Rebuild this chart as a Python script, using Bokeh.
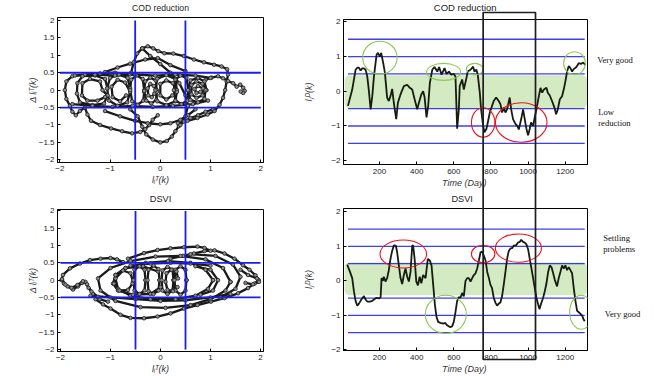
from bokeh.plotting import figure
from bokeh.models import Range1d, FixedTicker, GridBox, BoxAnnotation
from bokeh.core.properties import value
from bokeh.embed import file_html
from bokeh.resources import INLINE

# ---------------- data ----------------
PHASE_XTICKS = [-2, -1, 0, 1, 2]
PHASE_YTICKS = [-2, -1.5, -1, -0.5, 0, 0.5, 1, 1.5, 2]
DAY_TICKS = [0, 200, 400, 600, 800, 1000, 1200]
ID_TICKS = [-2, -1, 0, 1, 2]
PHASE_LIMITS = [-0.5, 0.5]
PHASE_LIMIT_SPAN = [-2, 2]
LEVELS = [-1.5, -1, -0.5, 0.5, 1, 1.5]
LEVEL_SPAN_DAYS = [30, 1305]
BAND_DAYS = [12, 1317]
BAND_COD = [-0.49, 0.46]
BAND_DSVI = [-0.42, 0.53]
WINDOW_DAYS = [758, 1040]

COD_DAY = [30, 53, 71, 80, 89, 98, 107, 116, 125, 134, 143, 152, 161, 170, 184, 191, 202, 209, 220, 229,
           241, 250, 259, 268, 277, 290, 299, 313, 331, 349, 363, 376, 389, 403, 412, 425, 435, 443, 453, 462,
           471, 484, 496, 511, 521, 534, 550, 561, 574, 586, 600, 609, 618, 627, 632, 645, 654, 668, 675, 690,
           704, 711, 722, 729, 740, 747, 758, 765, 776, 783, 794, 806, 815, 828, 842, 851, 860, 869, 878, 887,
           901, 909, 919, 932, 941, 950, 963, 973, 982, 991, 1000, 1009, 1016, 1027, 1034, 1045, 1058, 1067,
           1076, 1085, 1099, 1106, 1117, 1129, 1142, 1151, 1160, 1171, 1183, 1192, 1201, 1210, 1219, 1228,
           1237, 1246, 1260, 1273, 1285, 1296, 1309]
COD_ID = [-0.42, 0.05, 0.62, 0.68, 0.68, 0.6, 0.66, 0.66, 0.62, 0.43, 0.0, -0.52, -0.14, 0.43, 1.05, 1.11, 1.0, 1.11, 0.81, 0.53,
          -0.18, -0.28, -0.14, 0.07, -0.33, -0.8, -0.33, -0.09, 0.15, 0.19, 0.1, 0.05, -0.23, -0.52, -0.33, -0.09, 0.0, -0.18, -0.75, -0.42,
          0.24, 0.62, 0.7, 0.57, 0.7, 0.48, 0.67, 0.5, 0.57, 0.48, 0.5, 0.43, -1.08, -0.52, 0.15, 0.34, 0.05, 0.38, 0.57, 0.62,
          0.71, 0.57, 0.62, 0.48, -0.04, -0.52, -0.99, -1.18, -1.08, -0.9, -0.61, -0.42, -0.28, -0.18, -0.28, -0.37, -0.61, -0.47, -0.61, -0.52,
          -0.18, -0.52, -0.8, -0.94, -0.99, -1.1, -0.8, -0.52, -0.8, -1.08, -1.27, -1.08, -0.9, -1.0, -0.8, -0.52, -0.14, 0.1,
          -0.04, 0.05, 0.1, -0.04, -0.12, -0.28, -0.47, -0.66, -0.52, -0.23, -0.14, 0.05, 0.29, 0.57, 0.73, 0.67,
          0.57, 0.64, 0.7, 0.81, 0.79, 0.83, 0.76]

DSVI_DAY = [26, 41, 53, 62, 71, 80, 89, 98, 109, 116, 125, 134, 148, 161, 170, 184, 197, 206, 211, 218,
            223, 232, 241, 250, 259, 268, 277, 288, 295, 304, 313, 322, 331, 340, 349, 358, 367, 376, 381, 389,
            398, 407, 416, 425, 435, 448, 460, 471, 480, 489, 498, 507, 516, 528, 543, 554, 564, 579, 591, 600,
            609, 618, 627, 636, 645, 654, 663, 672, 681, 690, 699, 708, 717, 726, 735, 744, 753, 762, 771, 780,
            789, 797, 806, 815, 824, 833, 842, 851, 860, 869, 878, 887, 896, 905, 914, 923, 937, 945, 955, 963,
            973, 982, 991, 1000, 1009, 1018, 1027, 1036, 1045, 1054, 1061, 1070, 1081, 1090, 1099, 1108, 1117,
            1126, 1135, 1144, 1156, 1165, 1174, 1183, 1192, 1201, 1210, 1219, 1228, 1237, 1246, 1255, 1264,
            1273, 1282, 1291, 1300, 1305]
DSVI_ID = [0.47, 0.26, 0.08, -0.3, -0.58, -0.72, -0.66, -0.58, -0.49, -0.44, -0.54, -0.6, -0.6, -0.58, -0.54, -0.49, -0.51, -0.47, 0.08, 0.0,
           0.12, -0.02, 0.08, 0.31, 0.64, 0.87, 1.03, 1.02, 0.83, 0.45, 0.08, -0.09, 0.17, 0.36, 0.12, -0.02, 0.26, 1.02, 1.03, 0.64,
           -0.02, -0.13, 0.12, -0.07, 0.17, 0.08, 0.64, 0.59, 0.45, -0.11, -0.68, -1.05, -1.19, -1.22, -1.24, -1.22, -1.29, -1.34, -1.32, -1.19,
           -0.91, -0.58, -0.47, -0.49, -0.35, -0.45, 0.0, 0.08, 0.08, -0.02, 0.08, 0.17, 0.22, 0.36, 0.59, 0.83, 0.85, 0.73, 0.59, 0.26,
           0.08, -0.11, -0.21, -0.49, -0.63, -0.72, -0.66, -0.63, -0.44, -0.11, 0.26, 0.64, 0.87, 0.94, 0.95, 1.02, 1.04, 1.11, 1.13, 1.19,
           1.13, 1.11, 1.06, 0.92, 0.64, 0.36, 0.08, -0.21, -0.49, -0.68, -0.82, -0.66, -0.49, -0.3, -0.07, 0.26, 0.45,
           0.4, 0.22, 0.03, -0.16, 0.08, 0.26, 0.45, 0.36, 0.45, 0.31, 0.4, 0.31, 0.22, -0.21, -0.58, -0.87,
           -0.91, -0.96, -1.01, -1.13, -1.17]

# ellipses highlighting episodes: centre day, centre value, width (days), height
COD_GREEN_DAY = [202, 545, 713, 1250]
COD_GREEN_VAL = [0.97, 0.56, 0.64, 0.81]
COD_GREEN_W = [185, 183, 90, 117]
COD_GREEN_H = [0.95, 0.49, 0.33, 0.66]
COD_RED_DAY = [758, 963]
COD_RED_VAL = [-0.9, -0.9]
COD_RED_W = [126, 278]
COD_RED_H = [0.85, 1.14]
DSVI_RED_DAY = [328, 758, 948]
DSVI_RED_VAL = [0.78, 0.78, 0.95]
DSVI_RED_W = [251, 126, 248]
DSVI_RED_H = [0.81, 0.51, 0.82]
DSVI_GREEN_DAY = [557, 1287]
DSVI_GREEN_VAL = [-0.97, -0.91]
DSVI_GREEN_W = [221, 126]
DSVI_GREEN_H = [1.11, 0.99]

# phase trajectories (l, delta l)
COD_OUTER = [(-0.6, 0.45), (-0.9, 0.5), (-1.2, 0.48), (-1.5, 0.45), (-1.75, 0.4), (-1.87, 0.25), (-1.9, 0.0),
             (-1.87, -0.25), (-1.8, -0.45), (-1.75, -0.62), (-1.68, -0.72), (-1.6, -0.6), (-1.5, -0.5),
             (-1.45, -0.7), (-1.38, -0.88), (-1.2, -1.0), (-0.98, -1.1), (-0.76, -1.18), (-0.56, -1.24),
             (-0.4, -1.2), (-0.3, -1.12), (-0.22, -1.0), (-0.15, -0.85), (-0.05, -0.72)]
COD_BOTTOM = [(-0.6, -0.55), (-0.45, -0.75), (-0.36, -1.05), (-0.28, -1.27), (-0.15, -1.42), (0.0, -1.5),
              (0.13, -1.46), (0.23, -1.33), (0.3, -1.18), (0.37, -1.03), (0.47, -0.9), (0.6, -0.8),
              (0.75, -0.72), (0.9, -0.62), (1.05, -0.55)]
COD_MIDLOW = [(-1.1, -0.6), (-0.8, -0.75), (-0.5, -0.88), (-0.25, -0.95), (0.0, -0.98), (0.2, -0.95),
              (0.4, -0.85), (0.55, -0.72), (0.7, -0.55)]
COD_TOP = [(-0.58, 0.5), (-0.53, 0.8), (-0.46, 1.05), (-0.36, 1.2), (-0.25, 1.26), (-0.14, 1.2), (-0.04, 1.12),
           (0.08, 1.06), (0.26, 1.05), (0.47, 0.98), (0.67, 0.88), (0.87, 0.8), (1.07, 0.73), (1.22, 0.68),
           (1.33, 0.6), (1.35, 0.45), (1.32, 0.25), (1.29, 0.0), (1.25, -0.22), (1.18, -0.42), (1.08, -0.6),
           (0.94, -0.7), (0.74, -0.8), (0.54, -0.88), (0.35, -0.95)]
COD_DIAG = [(-0.36, 1.2), (-0.2, 0.98), (0.0, 0.75), (0.2, 0.5), (0.38, 0.2), (0.5, -0.15), (0.55, -0.45),
            (0.5, -0.75), (0.4, -1.0)]
COD_UPPER = [(0.5, 0.55), (0.2, 0.72), (-0.05, 0.92), (-0.3, 0.88), (-0.6, 0.76), (-0.85, 0.65), (-1.1, 0.52)]
COD_TAIL = [(0.9, 0.3), (1.02, 0.36), (1.15, 0.4), (1.25, 0.34), (1.35, 0.26), (1.45, 0.2), (1.52, 0.1),
            (1.59, 0.16), (1.65, 0.07), (1.68, -0.02), (1.65, -0.08), (1.6, -0.04)]
COD_LOOP1 = [(-1.05, 0.05), (-1.1, 0.32), (-1.3, 0.42), (-1.55, 0.4), (-1.65, 0.2), (-1.66, -0.1), (-1.6, -0.35),
             (-1.35, -0.43), (-1.12, -0.38), (-1.05, -0.15), (-1.15, 0.0), (-1.2, 0.25), (-1.4, 0.32),
             (-1.55, 0.2), (-1.56, -0.15), (-1.45, -0.3), (-1.25, -0.3), (-1.1, -0.2)]
COD_LOOP2 = [(-0.6, 0.05), (-0.65, 0.35), (-0.82, 0.45), (-1.0, 0.35), (-1.06, 0.05), (-1.02, -0.3),
             (-0.85, -0.45), (-0.66, -0.35), (-0.6, -0.05), (-0.7, 0.22), (-0.85, 0.3), (-0.97, 0.1),
             (-0.95, -0.2), (-0.8, -0.32), (-0.68, -0.15)]
COD_LOOP3 = [(-0.32, 0.0), (-0.35, 0.32), (-0.47, 0.42), (-0.58, 0.3), (-0.6, 0.0), (-0.56, -0.32),
             (-0.45, -0.42), (-0.34, -0.3), (-0.32, -0.05)]
COD_LOOP4 = [(-0.07, 0.0), (-0.09, 0.28), (-0.2, 0.36), (-0.3, 0.25), (-0.32, -0.02), (-0.28, -0.3),
             (-0.18, -0.38), (-0.08, -0.28), (-0.07, -0.05), (-0.13, 0.12), (-0.2, 0.18), (-0.25, 0.05),
             (-0.24, -0.15), (-0.17, -0.2), (-0.12, -0.1)]
COD_LOOP5 = [(0.33, 0.0), (0.3, 0.32), (0.12, 0.43), (-0.06, 0.33), (-0.1, 0.0), (-0.06, -0.32), (0.12, -0.43),
             (0.3, -0.32), (0.33, -0.05), (0.25, 0.2), (0.12, 0.28), (0.0, 0.18), (0.0, -0.15), (0.12, -0.27),
             (0.24, -0.15)]
COD_LOOP6 = [(0.56, 0.0), (0.52, 0.35), (0.4, 0.42), (0.3, 0.3), (0.27, 0.0), (0.3, -0.3), (0.42, -0.4),
             (0.54, -0.3), (0.56, 0.0)]
COD_LOOP7 = [(0.92, 0.0), (0.88, 0.25), (0.75, 0.35), (0.6, 0.28), (0.55, 0.0), (0.6, -0.28), (0.75, -0.35),
             (0.88, -0.25), (0.9, 0.0), (0.84, 0.18), (0.72, 0.25), (0.62, 0.15), (0.62, -0.12), (0.72, -0.22),
             (0.84, -0.15), (0.85, 0.05), (0.75, 0.12), (0.68, 0.03), (0.72, -0.08), (0.8, -0.05)]
COD_BANDTOP = [(-1.7, 0.42), (-1.3, 0.45), (-0.9, 0.42), (-0.5, 0.45), (-0.1, 0.42), (0.3, 0.45), (0.7, 0.42),
               (1.0, 0.35)]
COD_BANDLOW = [(-1.75, -0.4), (-1.35, -0.45), (-0.95, -0.48), (-0.55, -0.45), (-0.15, -0.48), (0.25, -0.45),
               (0.65, -0.4), (0.95, -0.3)]
COD_PHASE = [COD_OUTER, COD_BOTTOM, COD_MIDLOW, COD_TOP, COD_DIAG, COD_UPPER, COD_TAIL, COD_LOOP1, COD_LOOP2,
             COD_LOOP3, COD_LOOP4, COD_LOOP5, COD_LOOP6, COD_LOOP7, COD_BANDTOP, COD_BANDLOW]

DSVI_LEFT = [(-0.75, 0.52), (-0.87, 0.6), (-1.0, 0.64), (-1.2, 0.62), (-1.41, 0.58), (-1.61, 0.48), (-1.81, 0.34),
             (-1.95, 0.15), (-1.98, 0.0), (-1.93, -0.1), (-1.86, -0.18), (-1.75, -0.27), (-1.65, -0.18),
             (-1.57, -0.08), (-1.5, -0.05), (-1.44, -0.22), (-1.35, -0.4), (-1.22, -0.55), (-1.05, -0.62)]
DSVI_LEFT2 = [(-1.97, 0.03), (-1.9, -0.13), (-1.78, -0.22), (-1.66, -0.14), (-1.55, -0.03), (-1.47, -0.12),
              (-1.38, -0.33), (-1.25, -0.48)]
DSVI_LOWER = [(-1.3, -0.55), (-1.15, -0.7), (-1.0, -0.82), (-0.8, -1.0), (-0.6, -1.09), (-0.33, -1.1),
              (-0.06, -1.05), (0.2, -0.96), (0.47, -0.82), (0.74, -0.72), (1.01, -0.62), (1.28, -0.52),
              (1.55, -0.38), (1.75, -0.23), (1.88, -0.1), (1.96, 0.0)]
DSVI_RIGHT = [(1.96, 0.0), (1.9, 0.14), (1.78, 0.3), (1.65, 0.43), (1.48, 0.62), (1.28, 0.77), (1.08, 0.86),
              (0.88, 0.84), (0.67, 0.77), (0.45, 0.7), (0.2, 0.62)]
DSVI_TIP = [(1.6, 0.3), (1.75, 0.15), (1.93, 0.05), (1.97, -0.05), (1.85, -0.12), (1.7, -0.08)]
DSVI_UPPER = [(-0.65, 0.62), (-0.33, 0.78), (-0.06, 0.87), (0.2, 0.92), (0.47, 0.95), (0.74, 0.97), (0.88, 0.93),
              (1.0, 0.85)]
DSVI_E1 = [(1.4, -0.05), (1.25, 0.35), (0.9, 0.6), (0.4, 0.7), (-0.1, 0.68), (-0.6, 0.55), (-1.0, 0.35),
           (-1.25, 0.05), (-1.2, -0.3), (-0.9, -0.6), (-0.4, -0.78), (0.1, -0.8), (0.6, -0.72), (1.0, -0.55),
           (1.3, -0.3), (1.4, -0.05)]
DSVI_E2 = [(1.05, 0.0), (0.9, 0.3), (0.6, 0.5), (0.15, 0.55), (-0.3, 0.5), (-0.7, 0.35), (-0.9, 0.05),
           (-0.85, -0.25), (-0.6, -0.45), (-0.2, -0.55), (0.3, -0.55), (0.7, -0.45), (0.95, -0.25), (1.05, 0.0)]
DSVI_E3 = [(-0.05, 0.25), (-0.35, 0.4), (-0.7, 0.35), (-0.9, 0.15), (-0.95, -0.1), (-0.85, -0.3), (-0.55, -0.42),
           (-0.2, -0.4), (0.0, -0.2)]
DSVI_E4 = [(-0.55, -0.05), (-0.6, 0.2), (-0.75, 0.28), (-0.9, 0.15), (-0.93, -0.1), (-0.82, -0.3), (-0.65, -0.28),
           (-0.56, -0.1)]
DSVI_V1 = [(-0.3, 0.0), (-0.32, 0.3), (-0.42, 0.4), (-0.52, 0.3), (-0.54, 0.0), (-0.52, -0.3), (-0.42, -0.4),
           (-0.32, -0.3), (-0.3, 0.0)]
DSVI_V2 = [(-0.02, 0.0), (-0.04, 0.32), (-0.14, 0.42), (-0.24, 0.3), (-0.26, 0.0), (-0.24, -0.32), (-0.14, -0.4),
           (-0.04, -0.3), (-0.02, 0.0)]
DSVI_V3 = [(0.26, 0.0), (0.24, 0.3), (0.14, 0.38), (0.04, 0.28), (0.02, 0.0), (0.04, -0.3), (0.14, -0.4),
           (0.24, -0.3), (0.26, 0.0)]
DSVI_V4 = [(0.52, 0.0), (0.5, 0.3), (0.4, 0.4), (0.3, 0.3), (0.28, 0.0), (0.3, -0.3), (0.4, -0.42), (0.5, -0.3),
           (0.52, 0.0)]
DSVI_V5 = [(0.35, 0.05), (0.32, 0.25), (0.22, 0.3), (0.12, 0.2), (0.1, -0.05), (0.14, -0.28), (0.25, -0.32),
           (0.34, -0.2)]
DSVI_BANDLOW = [(-1.4, -0.45), (-1.0, -0.5), (-0.5, -0.55), (0.0, -0.6), (0.5, -0.58), (1.0, -0.5), (1.4, -0.4)]
DSVI_BANDTOP = [(-0.6, 0.42), (-0.2, 0.48), (0.2, 0.5), (0.6, 0.48), (1.0, 0.42)]
DSVI_R1 = [(0.6, 0.75), (1.1, 0.7), (1.45, 0.45), (1.6, 0.1), (1.5, -0.25), (1.2, -0.5)]
DSVI_R2 = [(0.7, 0.4), (1.0, 0.3), (1.15, 0.0), (1.05, -0.3), (0.8, -0.42)]
DSVI_PHASE = [DSVI_LEFT, DSVI_LEFT2, DSVI_LOWER, DSVI_RIGHT, DSVI_TIP, DSVI_UPPER, DSVI_E1, DSVI_E2, DSVI_E3,
              DSVI_E4, DSVI_V1, DSVI_V2, DSVI_V3, DSVI_V4, DSVI_V5, DSVI_BANDLOW, DSVI_BANDTOP, DSVI_R1, DSVI_R2]

# ---------------- layout / style ----------------
W, H = 654, 376
LW, RW = 300, 354
TH, BH = 190, 186
SANS = "Liberation Sans"
SERIF = "Liberation Serif"
BLUE = "#1c1cf0"
LINE = "#161c10"
GREEN = "#8cc84b"
RED = "#e8141a"
BAND = "#d3eac2"
R_LEFT, R_RIGHT = 43, 67          # right-column frame borders
DAY_RANGE = (6, 1320)


def tick_labels(ticks):
    return {t: ("%g" % t).replace("-", "\u2212") for t in ticks}


def make_fig(w, h, xr, yr, borders, xt, yt, tsize):
    p = figure(width=w, height=h, x_range=Range1d(*xr), y_range=Range1d(*yr), toolbar_location=None,
               output_backend="svg", title_location=None, min_border_left=borders[0],
               min_border_right=borders[1], min_border_top=borders[2], min_border_bottom=borders[3],
               background_fill_color="white", border_fill_color="white", frame_align=False)
    p.xgrid.visible = False
    p.ygrid.visible = False
    p.outline_line_color = "black"
    p.outline_line_width = 1
    for ax, t in ((p.below[0], xt), (p.left[0], yt)):
        ax.ticker = FixedTicker(ticks=t)
        ax.major_label_overrides = tick_labels(t)
        ax.major_tick_in = 3
        ax.major_tick_out = 0
        ax.minor_tick_line_color = None
        ax.major_label_text_font = SANS
        ax.major_label_text_font_size = tsize
        ax.major_label_text_color = "#222222"
        ax.major_label_standoff = 3
        ax.axis_line_color = "black"
        ax.axis_label_text_font = SANS
        ax.axis_label_text_font_size = "9px"
        ax.axis_label_text_font_style = "italic"
        ax.axis_label_text_color = "#333333"
    return p, p.below[0], p.left[0]


def phase_panel(p, segments):
    xs = [[pt[0] for pt in seg] for seg in segments]
    ys = [[pt[1] for pt in seg] for seg in segments]
    p.multi_line(xs, ys, line_color="#1a1a1a", line_width=2.3)
    p.scatter([x for s in xs for x in s], [y for s in ys for y in s], marker="circle", size=3.6,
              line_color="#1a1a1a", fill_color="#8c8c8c", line_width=0.8)
    n = len(PHASE_LIMITS)
    p.segment(x0=[PHASE_LIMIT_SPAN[0]] * n, x1=[PHASE_LIMIT_SPAN[1]] * n, y0=PHASE_LIMITS, y1=PHASE_LIMITS,
              line_color=BLUE, line_width=1.8)
    p.segment(x0=PHASE_LIMITS, x1=PHASE_LIMITS, y0=[PHASE_LIMIT_SPAN[0]] * n, y1=[PHASE_LIMIT_SPAN[1]] * n,
              line_color=BLUE, line_width=1.8)


def series_panel(p, band, days, vals, ells):
    p.add_layout(BoxAnnotation(left=BAND_DAYS[0], right=BAND_DAYS[1], bottom=band[0], top=band[1],
                               fill_color=BAND, fill_alpha=1, line_color=None, border_radius=5,
                               level="underlay"))
    n = len(LEVELS)
    p.segment(x0=[LEVEL_SPAN_DAYS[0]] * n, x1=[LEVEL_SPAN_DAYS[1]] * n, y0=LEVELS, y1=LEVELS,
              line_color=BLUE, line_width=1.3, line_alpha=0.85)
    p.line(days, vals, line_color=LINE, line_width=1.8)
    for (ed, ev, ew, eh, col) in ells:
        p.ellipse(x=ed, y=ev, width=ew, height=eh, fill_color=None, line_color=col, line_width=1.1)


tl, tlx, tly = make_fig(LW, TH, (-2.046, 2.054), (-2.077, 2.086), (57, 37, 17, 28),
                        PHASE_XTICKS, PHASE_YTICKS, "8px")
tlx.axis_label = "l\u1d62\u1d40(k)"
tly.axis_label = "\u0394 l\u1d62\u1d40(k)"
tlx.axis_label_standoff = 1
tly.axis_label_standoff = -2
phase_panel(tl, COD_PHASE)

bl, blx, bly = make_fig(LW, BH, (-2.06, 2.06), (-2.06, 2.04), (57, 37, 19, 25),
                        PHASE_XTICKS, PHASE_YTICKS, "8px")
blx.axis_label = "l\u1d62\u1d40(k)"
bly.axis_label = "\u0394 l\u1d62\u1d40(k)"
blx.axis_label_standoff = 1
bly.axis_label_standoff = -2
phase_panel(bl, DSVI_PHASE)

tr, trx, try_ = make_fig(RW, TH, DAY_RANGE, (-2.11, 2.07), (R_LEFT, R_RIGHT, 19, 24),
                         DAY_TICKS, ID_TICKS, "8px")
trx.axis_label = "Time  (Day)"
try_.axis_label = "l\u2c7c\u1d30(k)"
trx.axis_label_standoff = 1
trx.major_label_standoff = 4
try_.axis_label_standoff = 14
series_panel(tr, BAND_COD, COD_DAY, COD_ID,
             [(COD_GREEN_DAY, COD_GREEN_VAL, COD_GREEN_W, COD_GREEN_H, GREEN),
              (COD_RED_DAY, COD_RED_VAL, COD_RED_W, COD_RED_H, RED)])

br, brx, bry = make_fig(RW, BH, DAY_RANGE, (-2.02, 2.1), (R_LEFT, R_RIGHT, 18, 24),
                        DAY_TICKS, ID_TICKS, "8px")
brx.axis_label = "Time  (Day)"
bry.axis_label = "l\u2c7c\u1d30(k)"
brx.axis_label_standoff = 1
brx.major_label_standoff = 4
bry.axis_label_standoff = 14
series_panel(br, BAND_DSVI, DSVI_DAY, DSVI_ID,
             [(DSVI_RED_DAY, DSVI_RED_VAL, DSVI_RED_W, DSVI_RED_H, RED),
              (DSVI_GREEN_DAY, DSVI_GREEN_VAL, DSVI_GREEN_W, DSVI_GREEN_H, GREEN)])

# ---------------- overlay: titles, side notes, highlighted window ----------------
ov = figure(width=W, height=H, x_range=Range1d(0, W), y_range=Range1d(H, 0), x_axis_type=None,
            y_axis_type=None, toolbar_location=None, output_backend="svg", title_location=None,
            min_border_left=0, min_border_right=0, min_border_top=0, min_border_bottom=0,
            background_fill_color=None, border_fill_color=None, outline_line_color=None, frame_align=False)
# the right-column frames span canvas x from LW+R_LEFT to W-R_RIGHT for DAY_RANGE
fx0, fx1 = LW + R_LEFT, W - R_RIGHT
dpp = (DAY_RANGE[1] - DAY_RANGE[0]) / (fx1 - fx0)
ov.extra_x_ranges = {"days": Range1d(DAY_RANGE[0] - fx0 * dpp, DAY_RANGE[0] + (W - fx0) * dpp)}
ov.quad(left=[WINDOW_DAYS[0]], right=[WINDOW_DAYS[1]], top=[12], bottom=[359], x_range_name="days",
        fill_color=None, line_color="#1e1e1e", line_width=1.7)

ov.text(x=[160], y=[7.3], text=["COD reduction"], text_font=value(SANS), text_font_size="8.6px",
        text_align="center", text_baseline="middle", text_color="#222222")
ov.text(x=[464.7], y=[7.3], text=["COD reduction"], text_font=value(SANS), text_font_size="9.5px",
        text_align="center", text_baseline="middle", text_color="#222222")
ov.text(x=[160, 461.7], y=[198.3, 198.3], text=["DSVI", "DSVI"], text_font=value(SANS),
        text_font_size="9.2px", text_align="center", text_baseline="middle", text_color="#222222")
ov.text(x=[596.7, 597.7, 597.7, 602.7, 602.7, 604.3], y=[59.3, 111, 122.3, 237.3, 248.3, 313],
        text=["Very good", "Low", "reduction", "Settling", "problems", "Very  good"],
        text_font=value(SERIF), text_font_size="8.6px", text_align="left", text_baseline="middle",
        text_color="#111111")

grid = GridBox(children=[(tl, 0, 0), (tr, 0, 1), (bl, 1, 0), (br, 1, 1), (ov, 0, 0, 2, 2)], spacing=0)

open("out.html", "w").write(file_html(grid, INLINE))
